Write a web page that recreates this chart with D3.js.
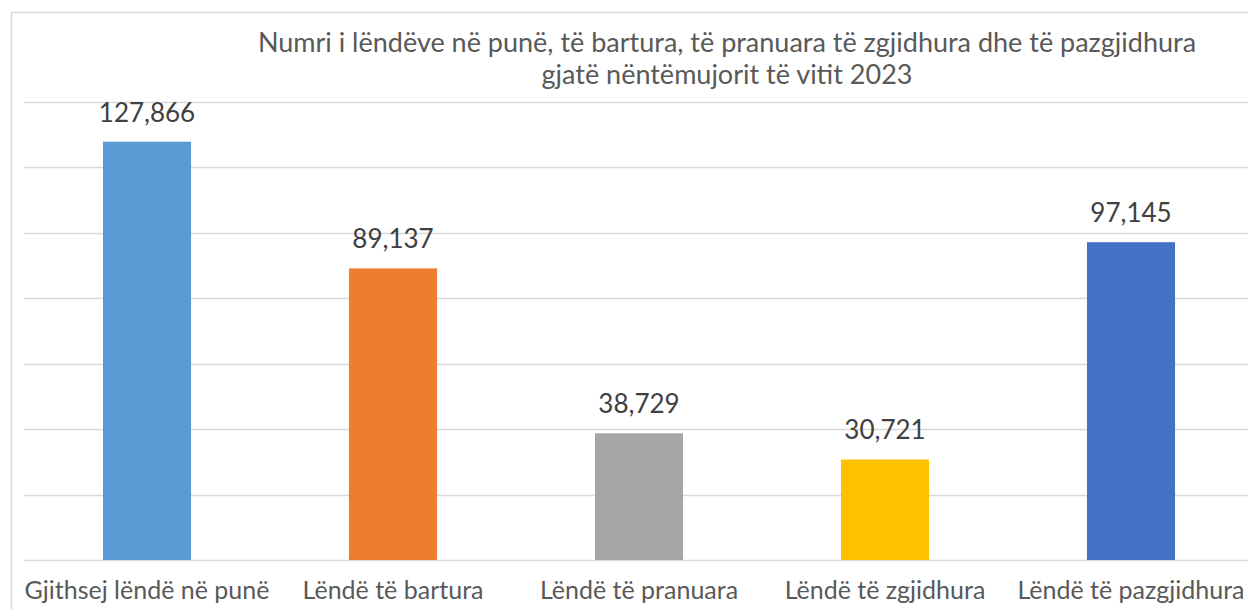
<!DOCTYPE html>
<html lang="sq">
<head>
<meta charset="UTF-8">
<title>Numri i lëndëve</title>
<script src="https://d3js.org/d3.v7.min.js"></script>
<style>
  body { margin: 0; background: #fff; }
  svg { display: block; font-family: Lato, "Open Sans", sans-serif; }
</style>
</head>
<body>
<div id="chart"></div>
<script>
const categories = ["Gjithsej lëndë në punë", "Lëndë të bartura", "Lëndë të pranuara", "Lëndë të zgjidhura", "Lëndë të pazgjidhura"];
const values = [127866, 89137, 38729, 30721, 97145];
const colors = ["#5b9bd5", "#ed7d31", "#a5a5a5", "#ffc000", "#4472c4"];
const gridTicks = [0, 20000, 40000, 60000, 80000, 100000, 120000, 140000];
const titleLines = ["Numri i lëndëve në punë, të bartura, të pranuara të zgjidhura dhe të pazgjidhura", "gjatë nëntëmujorit të vitit 2023"];

const W = 1248, H = 610;
const svg = d3.select("#chart").append("svg")
    .attr("width", W)
    .attr("height", H);

// chart border (right and bottom edges fall outside the view)
svg.append("rect")
    .attr("x", 11.5).attr("y", 12.5)
    .attr("width", 1400).attr("height", 700)
    .attr("fill", "none")
    .attr("stroke", "#d9d9d9")
    .attr("stroke-width", 1.5);

const x = d3.scaleBand()
    .domain(categories)
    .range([24, 1254])
    .paddingInner(0.642)
    .paddingOuter(0.321);

const y = d3.scaleLinear()
    .domain([0, 140000])
    .range([560, 102]);

svg.append("g")
    .selectAll("line")
    .data(gridTicks)
    .join("line")
    .attr("x1", 24).attr("x2", W)
    .attr("y1", d => Math.round(y(d)) + 0.5)
    .attr("y2", d => Math.round(y(d)) + 0.5)
    .attr("stroke", "#d9d9d9")
    .attr("stroke-width", 1.5);

svg.append("g")
    .selectAll("rect")
    .data(values)
    .join("rect")
    .attr("x", (d, i) => x(categories[i]))
    .attr("width", x.bandwidth())
    .attr("y", d => y(d))
    .attr("height", d => y(0) - y(d))
    .attr("fill", (d, i) => colors[i]);

const fmt = d3.format(",");
svg.append("g")
    .selectAll("text")
    .data(values)
    .join("text")
    .attr("x", (d, i) => x(categories[i]) + x.bandwidth() / 2)
    .attr("y", d => y(d) - 20)
    .attr("text-anchor", "middle")
    .attr("fill", "#404040")
    .style("font-size", "26px")
    .text(d => fmt(d));

svg.append("g")
    .selectAll("text")
    .data(categories)
    .join("text")
    .attr("x", d => x(d) + x.bandwidth() / 2)
    .attr("y", 599)
    .attr("text-anchor", "middle")
    .attr("fill", "#595959")
    .style("font-size", "25px")
    .text(d => d);

svg.append("g")
    .selectAll("text")
    .data(titleLines)
    .join("text")
    .attr("x", 727)
    .attr("y", (d, i) => 52 + i * 32)
    .attr("text-anchor", "middle")
    .attr("fill", "#595959")
    .style("font-size", "27px")
    .text(d => d);
</script>
</body>
</html>
